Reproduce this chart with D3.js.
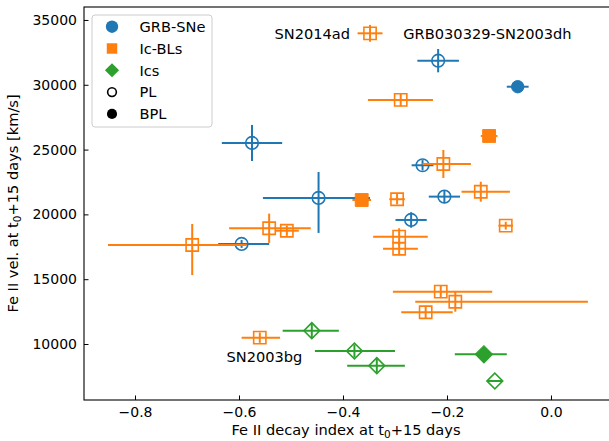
<!DOCTYPE html>
<html>
<head>
<meta charset="utf-8">
<script src="https://cdn.jsdelivr.net/npm/d3@7"></script>
<style>
  body { margin: 0; background: #fff; }
  text { font-family: "DejaVu Sans", sans-serif; }
</style>
</head>
<body>
<div id="chart"></div>
<script>
// each row: [x, xerr-, xerr+, y, yerr-, yerr+, fit]
let grbSNe = [
  [-0.217, 0.040, 0.040, 31860, 900, 900, "PL"],
  [-0.064, 0.021, 0.021, 29850, 0, 0, "BPL"],
  [-0.575, 0.058, 0.058, 25510, 1390, 1390, "PL"],
  [-0.447, 0.107, 0.099, 21270, 2700, 2000, "PL"],
  [-0.247, 0.021, 0.021, 23790, 400, 400, "PL"],
  [-0.205, 0.030, 0.030, 21370, 500, 500, "PL"],
  [-0.269, 0.030, 0.030, 19570, 600, 600, "PL"],
  [-0.595, 0.045, 0.053, 17720, 300, 300, "PL"]
];

let icBLs = [
  [-0.690, 0.162, 0.105, 17640, 2320, 1620, "PL"],
  [-0.542, 0.077, 0.080, 18930, 1130, 1130, "PL"],
  [-0.508, 0.023, 0.023, 18740, 400, 400, "PL"],
  [-0.289, 0.063, 0.062, 28830, 500, 500, "PL"],
  [-0.119, 0.016, 0.016, 26050, 300, 300, "BPL"],
  [-0.207, 0.040, 0.053, 23890, 1080, 1080, "PL"],
  [-0.135, 0.037, 0.056, 21750, 770, 770, "PL"],
  [-0.364, 0.018, 0.018, 21110, 200, 200, "BPL"],
  [-0.296, 0.015, 0.015, 21170, 400, 400, "PL"],
  [-0.087, 0.014, 0.014, 19130, 300, 300, "PL"],
  [-0.292, 0.050, 0.055, 18280, 650, 650, "PL"],
  [-0.292, 0.031, 0.036, 17350, 500, 500, "PL"],
  [-0.212, 0.092, 0.099, 14040, 500, 500, "PL"],
  [-0.184, 0.077, 0.255, 13260, 770, 770, "PL"],
  [-0.241, 0.047, 0.052, 12450, 500, 500, "PL"],
  [-0.560, 0.035, 0.039, 10490, 400, 400, "PL"]
];

let ics = [
  [-0.460, 0.056, 0.052, 11030, 600, 600, "PL"],
  [-0.378, 0.076, 0.078, 9460, 500, 500, "PL"],
  [-0.335, 0.057, 0.054, 8330, 550, 550, "PL"],
  [-0.129, 0.056, 0.044, 9205, 0, 0, "BPL"],
  [-0.108, 0.015, 0.015, 7145, 0, 0, "PL"]
];

// marker shown between the two names at the top
let refMarker = [[-0.348, 0.024, 0.024, 33970, 650, 650, "PL"]];

let notes = [
  { text: "SN2014ad", x: -0.3865, y: 33530, anchor: "end" },
  { text: "GRB030329-SN2003dh", x: -0.284, y: 33530, anchor: "start" },
  { text: "SN2003bg", x: -0.624, y: 8610, anchor: "start" }
];

let legendLabels = ["GRB-SNe", "Ic-BLs", "Ics", "PL", "BPL"];
let xTicks = [-0.8, -0.6, -0.4, -0.2, 0.0];
let yTicks = [10000, 15000, 20000, 25000, 30000, 35000];

let margin = { top: 7, right: -1, bottom: 41, left: 84 },
  width = 609 - margin.left - margin.right,
  height = 441 - margin.top - margin.bottom;

let svg = d3.select("#chart")
  .append("svg")
  .attr("width", 609)
  .attr("height", 441)
  .append("g")
  .attr("transform", "translate(" + margin.left + "," + margin.top + ")");

let x = d3.scaleLinear().domain([-0.8981, 0.1135]).range([0, width]);
let y = d3.scaleLinear().domain([5680, 36000]).range([height, 0]);

let blue = "#1f77b4", orange = "#ff7f0e", green = "#2ca02c";
let labelSize = "14.6px";

// axes, ticks pointing inward
let xAxis = svg.append("g")
  .attr("transform", "translate(0," + height + ")")
  .call(d3.axisBottom(x).tickValues(xTicks).tickFormat(d3.format(".1f")).tickSize(-4.5).tickPadding(7));
let yAxis = svg.append("g")
  .call(d3.axisLeft(y).tickValues(yTicks).tickFormat(d3.format("d")).tickSize(-4.5).tickPadding(7));
[xAxis, yAxis].forEach(function (a) {
  a.select(".domain").remove();
  a.selectAll("text").style("font-size", "14px").attr("fill", "#000");
  a.selectAll("line").attr("stroke", "#000").attr("stroke-width", 1);
});

function symbolPath(shape, filled) {
  if (shape === "circle") return d3.symbol(d3.symbolCircle, filled ? 120 : 125)();
  if (shape === "square") return d3.symbol(d3.symbolSquare, filled ? 165 : 150)();
  return d3.symbol(d3.symbolSquare, filled ? 150 : 125)();
}

function drawGroup(data, color, shape) {
  let g = svg.append("g");
  data.forEach(function (d) {
    let cx = x(d[0]), cy = y(d[3]);
    g.append("line")
      .attr("x1", x(d[0] - d[1])).attr("x2", x(d[0] + d[2]))
      .attr("y1", cy).attr("y2", cy)
      .attr("stroke", color).attr("stroke-width", 2);
    if (d[4] + d[5] > 0) {
      g.append("line")
        .attr("x1", cx).attr("x2", cx)
        .attr("y1", y(d[3] - d[4])).attr("y2", y(d[3] + d[5]))
        .attr("stroke", color).attr("stroke-width", 2);
    }
  });
  data.forEach(function (d) {
    let filled = d[6] === "BPL";
    g.append("path")
      .attr("d", symbolPath(shape, filled))
      .attr("transform", "translate(" + x(d[0]) + "," + y(d[3]) + ")" + (shape === "diamond" ? " rotate(45)" : ""))
      .attr("fill", filled ? color : "none")
      .attr("stroke", color)
      .attr("stroke-width", filled ? 1 : 1.6);
  });
}

drawGroup(grbSNe, blue, "circle");
drawGroup(icBLs, orange, "square");
drawGroup(ics, green, "diamond");
drawGroup(refMarker, orange, "square");

svg.selectAll(".note")
  .data(notes)
  .enter()
  .append("text")
  .attr("class", "note")
  .attr("x", function (d) { return x(d.x); })
  .attr("y", function (d) { return y(d.y); })
  .attr("text-anchor", function (d) { return d.anchor; })
  .style("font-size", labelSize)
  .text(function (d) { return d.text; });

// frame
svg.append("rect")
  .attr("width", width).attr("height", height)
  .attr("fill", "none").attr("stroke", "#000").attr("stroke-width", 1.1);

// legend
let leg = svg.append("g").attr("transform", "translate(8,8)");
leg.append("rect")
  .attr("width", 120).attr("height", 112).attr("rx", 3)
  .attr("fill", "#fff").attr("fill-opacity", 0.8)
  .attr("stroke", "#ccc").attr("stroke-width", 1);
let legMarks = [
  { color: blue, shape: "circle", fill: true, area: 120 },
  { color: orange, shape: "square", fill: true, area: 110 },
  { color: green, shape: "diamond", fill: true, area: 100 },
  { color: "#000", shape: "circle", fill: false, area: 60 },
  { color: "#000", shape: "circle", fill: true, area: 80 }
];
legendLabels.forEach(function (label, i) {
  let m = legMarks[i];
  let ly = 11.7 + i * 21.8;
  let sym = m.shape === "circle" ? d3.symbolCircle : d3.symbolSquare;
  leg.append("path")
    .attr("d", d3.symbol(sym, m.area)())
    .attr("transform", "translate(20," + ly + ")" + (m.shape === "diamond" ? " rotate(45)" : ""))
    .attr("fill", m.fill ? m.color : "none")
    .attr("stroke", m.color)
    .attr("stroke-width", m.fill ? 0 : 1.6);
  leg.append("text")
    .attr("x", 47.5).attr("y", ly)
    .attr("dy", "0.36em")
    .style("font-size", labelSize)
    .text(label);
});

// axis labels
svg.append("text")
  .attr("x", width / 2 - 1).attr("y", height + 35)
  .attr("text-anchor", "middle")
  .style("font-size", labelSize)
  .html('Fe II decay index at t<tspan dy="3" font-size="10.5px">0</tspan><tspan dy="-3">+15 days</tspan>');

svg.append("text")
  .attr("transform", "rotate(-90)")
  .attr("x", -height / 2).attr("y", -66)
  .attr("text-anchor", "middle")
  .style("font-size", labelSize)
  .html('Fe II vel. at t<tspan dy="3" font-size="10.5px">0</tspan><tspan dy="-3">+15 days [km/s]</tspan>');
</script>
</body>
</html>
